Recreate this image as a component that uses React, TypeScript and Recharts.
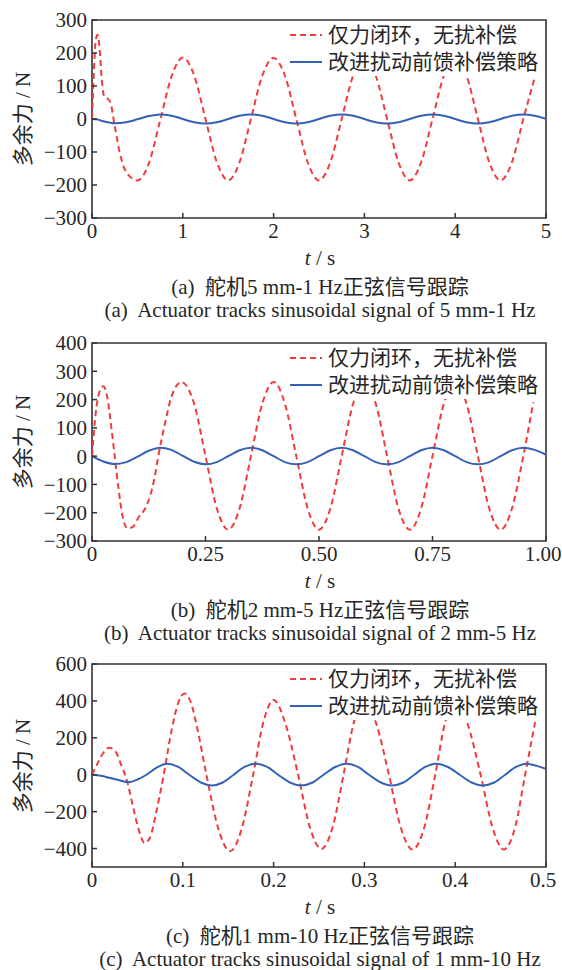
import React from 'react';
import { LineChart, Line, XAxis, YAxis, ReferenceArea } from 'recharts';

const SERIES_NAMES = ['仅力闭环，无扰补偿', '改进扰动前馈补偿策略'];
const Y_LABEL = '多余力 / N';

// (a) 5 mm - 1 Hz
const T_RED_A = [0, 0.02, 0.04, 0.06, 0.08, 0.1, 0.12, 0.14, 0.17, 0.2, 0.25, 0.3, 0.375, 0.5, 0.625, 0.75, 0.875,
  1.0, 1.125, 1.25, 1.375, 1.5, 1.625, 1.75, 1.875, 2.0, 2.125, 2.25, 2.375, 2.5, 2.625, 2.75, 2.875,
  3.0, 3.125, 3.25, 3.375, 3.5, 3.625, 3.75, 3.875, 4.0, 4.125, 4.25, 4.375, 4.5, 4.625, 4.75, 4.875];
const RED_A = [0, 140, 235, 255, 225, 150, 85, 66, 62, 52, -20, -95, -160, -186, -135, -5, 128,
  186, 132, 0, -131, -186, -131, 0, 131, 185, 131, 0, -131, -186, -131, 0, 131,
  185, 131, 0, -131, -186, -131, 0, 131, 185, 131, 0, -131, -186, -131, 0, 125];
const T_BLUE_A = [0, 0.05, 0.125, 0.25, 0.375, 0.5, 0.625, 0.75, 0.875, 1.0, 1.125, 1.25, 1.375, 1.5, 1.625, 1.75, 1.875,
  2.0, 2.125, 2.25, 2.375, 2.5, 2.625, 2.75, 2.875, 3.0, 3.125, 3.25, 3.375, 3.5, 3.625, 3.75, 3.875,
  4.0, 4.125, 4.25, 4.375, 4.5, 4.625, 4.75, 4.875, 5.0];
const BLUE_A = [0, -1, -7, -13, -10, -1, 9, 14, 10, 0, -10, -14, -10, 0, 10, 14, 10,
  0, -10, -14, -10, 0, 10, 14, 10, 0, -10, -14, -10, 0, 10, 14, 10,
  0, -10, -14, -10, 0, 10, 14, 10, 1];
const X_TICKS_A = [0, 1, 2, 3, 4, 5];
const Y_TICKS_A = [-300, -200, -100, 0, 100, 200, 300];

// (b) 2 mm - 5 Hz
const T_RED_B = [0, 0.008, 0.016, 0.025, 0.034, 0.042, 0.05, 0.058, 0.067, 0.078, 0.09, 0.103, 0.117, 0.128, 0.138, 0.146,
  0.161, 0.175, 0.197, 0.225, 0.25, 0.275, 0.3, 0.325, 0.35, 0.375, 0.4, 0.425, 0.45, 0.475, 0.5, 0.525,
  0.55, 0.575, 0.6, 0.625, 0.65, 0.675, 0.7, 0.725, 0.75, 0.775, 0.8, 0.825, 0.85, 0.875, 0.9, 0.925, 0.95, 0.972];
const RED_B = [0, 150, 225, 247, 205, 110, 0, -110, -210, -255, -250, -215, -185, -140, -75, 0,
  117, 210, 262, 185, 0, -185, -260, -185, 0, 185, 262, 185, 0, -185, -260, -185,
  0, 185, 260, 185, 0, -185, -260, -185, 0, 185, 260, 185, 0, -185, -260, -185, 0, 190];
const T_BLUE_B = [0, 0.025, 0.05, 0.075, 0.1, 0.125, 0.15, 0.175, 0.2, 0.225, 0.25, 0.275, 0.3, 0.325, 0.35, 0.375,
  0.4, 0.425, 0.45, 0.475, 0.5, 0.525, 0.55, 0.575, 0.6, 0.625, 0.65, 0.675, 0.7, 0.725, 0.75, 0.775,
  0.8, 0.825, 0.85, 0.875, 0.9, 0.925, 0.95, 0.975, 1.0];
const BLUE_B = [0, -19, -28, -21, -2, 19, 30, 22, 1, -20, -29, -21, 0, 21, 30, 21,
  0, -21, -29, -21, 0, 21, 30, 21, 0, -21, -29, -21, 0, 21, 30, 21,
  0, -21, -29, -21, 0, 21, 30, 22, 5];
const X_TICKS_B = [0, 0.25, 0.5, 0.75, 1.0];
const Y_TICKS_B = [-300, -200, -100, 0, 100, 200, 300, 400];

// (c) 1 mm - 10 Hz
const T_RED_C = [0, 0.006, 0.012, 0.019, 0.026, 0.032, 0.039, 0.045, 0.051, 0.058, 0.064, 0.07, 0.079, 0.088, 0.095,
  0.102, 0.109, 0.116, 0.126, 0.139, 0.152, 0.165, 0.1775, 0.1885, 0.2, 0.2125, 0.227, 0.24, 0.2525, 0.265,
  0.277, 0.2885, 0.3, 0.3125, 0.327, 0.34, 0.353, 0.366, 0.378, 0.389, 0.401, 0.413, 0.428, 0.441, 0.4535,
  0.466, 0.477, 0.488];
const RED_C = [0, 60, 115, 146, 125, 55, -40, -170, -290, -370, -340, -220, 0, 250, 390,
  440, 390, 250, 0, -290, -415, -290, 0, 280, 405, 285, 0, -285, -402, -285,
  0, 285, 402, 285, 0, -285, -405, -285, 0, 285, 402, 285, 0, -285, -405,
  -285, 0, 285];
const T_BLUE_C = [0, 0.01, 0.02, 0.03, 0.04, 0.05, 0.06, 0.07, 0.083, 0.095, 0.107, 0.12, 0.132, 0.144, 0.156,
  0.168, 0.18, 0.193, 0.205, 0.218, 0.23, 0.243, 0.255, 0.268, 0.28, 0.293, 0.305, 0.318, 0.33, 0.343,
  0.355, 0.367, 0.379, 0.392, 0.405, 0.418, 0.43, 0.443, 0.455, 0.467, 0.479, 0.49, 0.5];
const BLUE_C = [0, -6, -18, -30, -40, -26, 0, 35, 60, 42, 0, -42, -58, -42, 0,
  42, 60, 42, 0, -42, -58, -42, 0, 42, 60, 42, 0, -42, -58, -42,
  0, 42, 60, 42, 0, -42, -58, -42, 0, 42, 60, 48, 32];
const X_TICKS_C = [0, 0.1, 0.2, 0.3, 0.4, 0.5];
const Y_TICKS_C = [-400, -200, 0, 200, 400, 600];

const RED = '#f23b3b';
const BLUE = '#3561b4';
const INK = '#262626';
const AXIS = '#333';
const FONT = '"Liberation Serif", "Noto Sans CJK SC", serif';

const pts = (ts: number[], vs: number[]) => ts.map((t, i) => ({ t, v: vs[i] }));
const fmtY = (v: number) => (v < 0 ? '\u2212' + Math.abs(v) : String(v));

interface PanelProps {
  top: number;
  plotH: number;
  xDomain: [number, number];
  xTicks: number[];
  xFmt: (v: number) => string;
  yDomain: [number, number];
  yTicks: number[];
  red: { t: number; v: number }[];
  blue: { t: number; v: number }[];
  cn: string;
  en: string;
}

function Panel({ top, plotH, xDomain, xTicks, xFmt, yDomain, yTicks, red, blue, cn, en }: PanelProps) {
  const mTop = 20;
  const xH = 30;
  const height = mTop + plotH + xH + 5;
  const plotTop = top + mTop;
  const plotBottom = plotTop + plotH;
  const tickStyle = { fill: INK, fontSize: 21, fontFamily: FONT };
  const text: React.CSSProperties = {
    position: 'absolute', fontFamily: FONT, fontSize: 21, color: INK, whiteSpace: 'pre',
    lineHeight: '20px', transform: 'translate(-50%, -50%)',
  };

  // last x label would run past the page edge, nudge it in a little
  const renderXTick = (p: any) => {
    const last = p.payload.value === xTicks[xTicks.length - 1];
    const label = xFmt(p.payload.value);
    return (
      <text x={p.x} y={p.y} dx={last && label.length > 2 ? -3 : 0} dy="0.71em" textAnchor="middle"
        fill={INK} fontSize={21} fontFamily={FONT}>{label}</text>
    );
  };

  return (
    <>
      <div style={{ position: 'absolute', left: 0, top }}>
        <LineChart width={562} height={height} margin={{ top: mTop, right: 16, bottom: 5, left: 32 }}>
          <XAxis
            type="number"
            dataKey="t"
            domain={xDomain}
            ticks={xTicks}
            interval={0}
            allowDataOverflow
            height={xH}
            axisLine={false}
            tickSize={-5}
            tickMargin={10}
            tickLine={{ stroke: AXIS, strokeWidth: 1.5 }}
            tick={renderXTick}
          />
          <YAxis
            type="number"
            domain={yDomain}
            ticks={yTicks}
            interval={0}
            allowDataOverflow
            tickFormatter={fmtY}
            width={60}
            axisLine={false}
            tickSize={-5}
            tickMargin={10}
            tickLine={{ stroke: AXIS, strokeWidth: 1.5 }}
            tick={tickStyle}
          />
          <Line data={red} dataKey="v" type="monotone" stroke={RED} strokeWidth={2}
            strokeDasharray="6 4" dot={false} isAnimationActive={false} />
          <Line data={blue} dataKey="v" type="monotone" stroke={BLUE} strokeWidth={2}
            dot={false} isAnimationActive={false} />
          <ReferenceArea x1={xDomain[0]} x2={xDomain[1]} y1={yDomain[0]} y2={yDomain[1]}
            fill="none" stroke={AXIS} strokeWidth={1.6} fillOpacity={0} />
        </LineChart>
      </div>

      {/* legend box, white, sits over the curves */}
      <div style={{ position: 'absolute', left: 286, top: plotTop + 2, width: 258, height: 54, background: '#fff' }}>
        {SERIES_NAMES.map((name, i) => (
          <div key={name} style={{ position: 'absolute', left: 0, top: 13 + i * 27 - 12, height: 24, display: 'flex', alignItems: 'center' }}>
            <svg width={40} height={24} style={{ display: 'block' }}>
              <line x1={4} x2={36} y1={12} y2={12} stroke={i === 0 ? RED : BLUE} strokeWidth={2}
                strokeDasharray={i === 0 ? '6 4' : undefined} />
            </svg>
            <span style={{ fontFamily: FONT, fontSize: 21, color: INK, lineHeight: '24px', marginLeft: 2, whiteSpace: 'nowrap' }}>{name}</span>
          </div>
        ))}
      </div>

      <div style={{ ...text, left: 23, top: plotTop + plotH / 2, transform: 'translate(-50%, -50%) rotate(-90deg)' }}>{Y_LABEL}</div>
      <div style={{ ...text, left: 320, top: plotBottom + 40 }}><i>t</i> / s</div>
      <div style={{ ...text, left: 320, top: plotBottom + 69 }}>{cn}</div>
      <div style={{ ...text, left: 320, top: plotBottom + 92 }}>{en}</div>
    </>
  );
}

export default function App() {
  return (
    <div style={{ position: 'absolute', left: 0, top: 0, width: 562, height: 970, background: '#fff', overflow: 'hidden' }}>
      <Panel
        top={0}
        plotH={198}
        xDomain={[0, 5]}
        xTicks={X_TICKS_A}
        xFmt={(v) => String(v)}
        yDomain={[-300, 300]}
        yTicks={Y_TICKS_A}
        red={pts(T_RED_A, RED_A)}
        blue={pts(T_BLUE_A, BLUE_A)}
        cn="(a)  舵机5 mm-1 Hz正弦信号跟踪"
        en="(a)  Actuator tracks sinusoidal signal of 5 mm-1 Hz"
      />
      <Panel
        top={323}
        plotH={198}
        xDomain={[0, 1]}
        xTicks={X_TICKS_B}
        xFmt={(v) => (v === 0 ? '0' : v.toFixed(2))}
        yDomain={[-300, 400]}
        yTicks={Y_TICKS_B}
        red={pts(T_RED_B, RED_B)}
        blue={pts(T_BLUE_B, BLUE_B)}
        cn="(b)  舵机2 mm-5 Hz正弦信号跟踪"
        en="(b)  Actuator tracks sinusoidal signal of 2 mm-5 Hz"
      />
      <Panel
        top={644}
        plotH={203}
        xDomain={[0, 0.5]}
        xTicks={X_TICKS_C}
        xFmt={(v) => String(v)}
        yDomain={[-500, 600]}
        yTicks={Y_TICKS_C}
        red={pts(T_RED_C, RED_C)}
        blue={pts(T_BLUE_C, BLUE_C)}
        cn="(c)  舵机1 mm-10 Hz正弦信号跟踪"
        en="(c)  Actuator tracks sinusoidal signal of 1 mm-10 Hz"
      />
    </div>
  );
}
